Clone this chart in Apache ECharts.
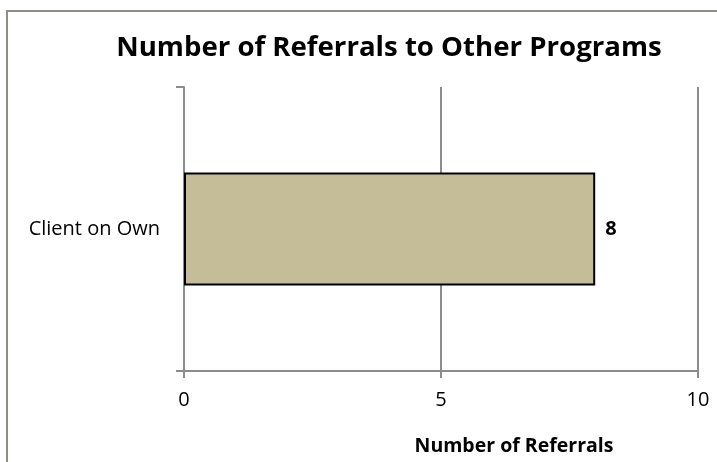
<!DOCTYPE html>
<html>
<head>
<meta charset="utf-8">
<style>
  html, body { margin: 0; padding: 0; background: #ffffff; }
  #chart { width: 717px; height: 462px; }
</style>
<script src="https://cdn.jsdelivr.net/npm/echarts@6/dist/echarts.min.js"></script>
</head>
<body>
<div id="chart"></div>
<script>
// Referral counts by destination
const categories = ['Client on Own'];
const referrals = [8];
const axisMin = 0;
const axisMax = 10;
const axisStep = 5;

const titleText = 'Number of Referrals to Other Programs';
const axisTitle = 'Number of Referrals';

const FONT = '"Open Sans", "Liberation Sans", sans-serif';
const GRID_GRAY = '#8c8c8c';

const chart = echarts.init(document.getElementById('chart'), null, { renderer: 'canvas' });

chart.setOption({
  animation: false,
  backgroundColor: '#ffffff',
  textStyle: { fontFamily: FONT },
  graphic: [{
    type: 'rect',
    shape: { x: 7, y: 11, width: 800, height: 600 },
    style: { fill: 'none', stroke: '#8e8e86', lineWidth: 2 },
    silent: true,
    z: 100
  }],
  title: [{
    text: titleText,
    left: 384,
    top: 29,
    textAlign: 'center',
    textStyle: { fontFamily: FONT, fontSize: 27.6, fontWeight: 'bold', color: '#000000' }
  }, {
    text: axisTitle,
    left: 509,
    top: 431,
    textAlign: 'center',
    textStyle: { fontFamily: FONT, fontSize: 19.5, fontWeight: 'bold', color: '#000000' }
  }],
  grid: { left: 184, right: 19, top: 87, bottom: 91, containLabel: false },
  xAxis: {
    type: 'value',
    min: axisMin,
    max: axisMax,
    interval: axisStep,
    axisLine: { show: true, lineStyle: { color: GRID_GRAY, width: 2 } },
    axisTick: { show: true, length: 7, lineStyle: { color: GRID_GRAY, width: 2 } },
    splitLine: { show: true, lineStyle: { color: GRID_GRAY, width: 2 } },
    axisLabel: { fontFamily: FONT, fontSize: 20, color: '#000000', margin: 19 }
  },
  yAxis: {
    type: 'category',
    data: categories,
    axisLine: { show: true, lineStyle: { color: GRID_GRAY, width: 2 } },
    axisTick: { show: true, length: 8, lineStyle: { color: GRID_GRAY, width: 2 } },
    axisLabel: { fontFamily: FONT, fontSize: 20, color: '#000000', margin: 24 }
  },
  series: [{
    type: 'bar',
    data: referrals,
    barWidth: 113,
    itemStyle: { color: '#c4bd97', borderColor: '#000000', borderWidth: 2 },
    label: {
      show: true,
      position: 'right',
      distance: 10,
      fontFamily: FONT,
      fontSize: 20,
      fontWeight: 'bold',
      color: '#000000'
    }
  }]
});
</script>
</body>
</html>
